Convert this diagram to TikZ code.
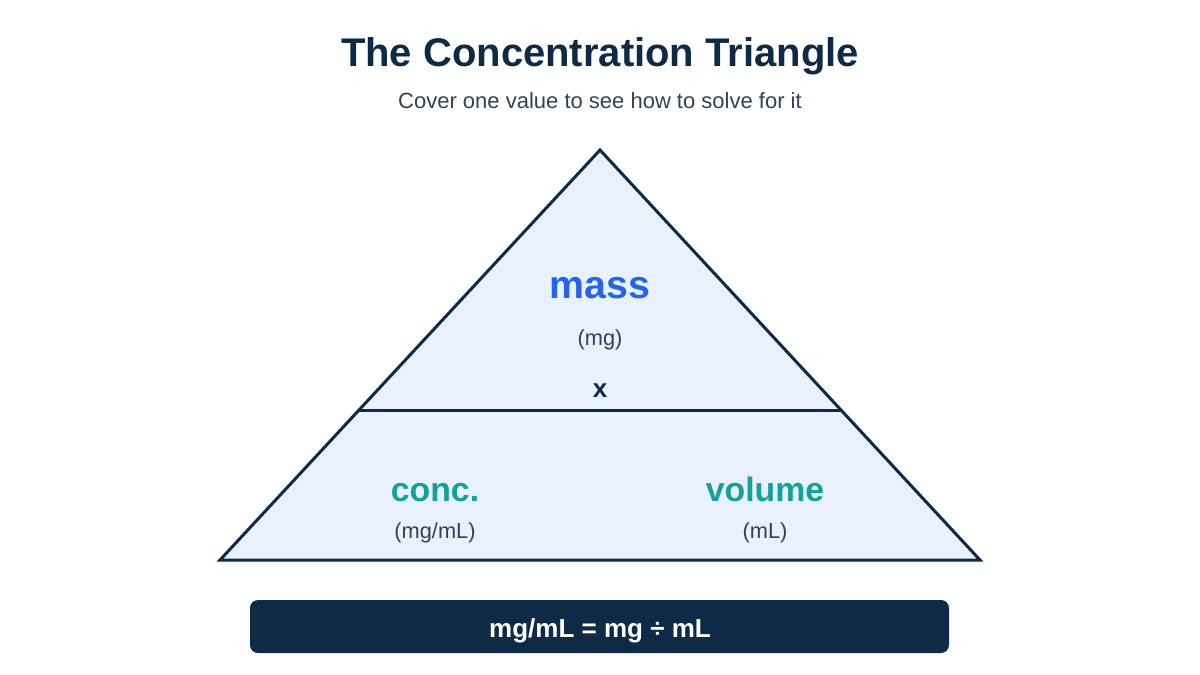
\documentclass[tikz,border=0pt]{standalone}
\usepackage{fontspec}
\setmainfont{Liberation Sans}
\definecolor{navy}{HTML}{0F2A47}
\definecolor{massblue}{HTML}{2563EB}
\definecolor{tealc}{HTML}{13A19D}
\definecolor{unitgray}{HTML}{334155}
\definecolor{trifill}{HTML}{E8F1FC}
\tikzset{
  txt/.style={inner sep=0pt, anchor=base},
  titletxt/.style={txt, text=navy, font=\fontsize{40}{48}\selectfont\bfseries},
  subtxt/.style={txt, text=unitgray, font=\fontsize{22}{26}\selectfont},
  bigblue/.style={txt, text=massblue, font=\fontsize{39.3}{47}\selectfont\bfseries},
  bigteal/.style={txt, text=tealc, font=\fontsize{33.8}{40}\selectfont\bfseries},
  unit/.style={txt, text=unitgray, font=\fontsize{21.8}{26}\selectfont},
  timestxt/.style={txt, text=navy, font=\fontsize{26}{31}\selectfont\bfseries},
  triline/.style={draw=navy, line width=3pt},
  formulabar/.style={fill=navy, rounded corners=8pt, minimum width=699pt, minimum height=53pt, inner sep=0pt},
  formulatxt/.style={txt, text=white, font=\fontsize{26}{31}\selectfont\bfseries},
}
\begin{document}
\begin{tikzpicture}[x=1pt, y=-1pt]
\useasboundingbox (0,0) rectangle (1200,675);
% triangle
\coordinate (apex) at (600,150);
\coordinate (bl) at (220,560);
\coordinate (br) at (980,560);
\coordinate (dl) at (359.0,410);
\coordinate (dr) at (841.0,410);
\fill[trifill] (apex) -- (bl) -- (br) -- cycle;
\draw[triline] (dl) -- (dr);
\draw[triline] (apex) -- (bl) -- (br) -- cycle;
% titles
\node[titletxt] (title) at (600,66) {The Concentration Triangle};
\node[subtxt] (subtitle) at (600,108) {Cover one value to see how to solve for it};
% top section
\node[bigblue] (mass) at (600,298) {mass};
\node[unit] (massunit) at (600,345) {(mg)};
\node[timestxt] (times) at (600,397) {x};
% bottom section
\node[bigteal] (conc) at (435,501) {conc.};
\node[unit] (concunit) at (435,538) {(mg/mL)};
\node[bigteal] (volume) at (765,501) {volume};
\node[unit] (volunit) at (765,538) {(mL)};
% formula bar
\node[formulabar] (bar) at (599.5,626.5) {};
\node[formulatxt] (formula) at (600,637) {mg/mL = mg ÷ mL};
\end{tikzpicture}
\end{document}
